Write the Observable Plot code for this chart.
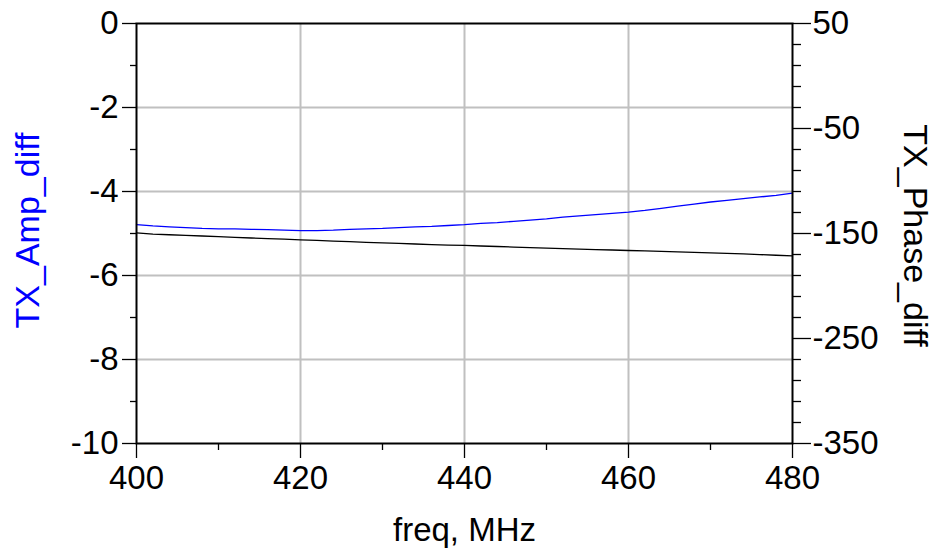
<!DOCTYPE html>
<html>
<head>
<meta charset="utf-8">
<script src="https://cdn.jsdelivr.net/npm/d3@7"></script>
<script src="https://cdn.jsdelivr.net/npm/@observablehq/plot@0.6"></script>
<style>
  html, body { margin: 0; padding: 0; background: #fff; }
</style>
</head>
<body>
<div id="chart"></div>
<script>
const freq = [400,402,404,406,408,410,412,414,416,418,420,422,424,426,428,430,432,434,436,438,440,442,444,446,448,450,452,454,456,458,460,462,464,466,468,470,472,474,476,478,480];
const ampDiff = [-4.79,-4.82,-4.84,-4.86,-4.88,-4.89,-4.89,-4.90,-4.91,-4.92,-4.93,-4.93,-4.92,-4.90,-4.89,-4.88,-4.86,-4.84,-4.83,-4.81,-4.79,-4.76,-4.74,-4.71,-4.68,-4.65,-4.61,-4.58,-4.55,-4.52,-4.49,-4.45,-4.40,-4.35,-4.30,-4.25,-4.21,-4.17,-4.13,-4.09,-4.04];
const phaseDiff = [-149.5,-150.6,-151.2,-151.8,-152.4,-153.0,-153.6,-154.3,-154.9,-155.4,-156.0,-156.6,-157.2,-157.8,-158.4,-159.0,-159.5,-160.0,-160.5,-161.0,-161.4,-161.9,-162.4,-162.9,-163.4,-163.9,-164.4,-164.8,-165.3,-165.7,-166.2,-166.6,-167.1,-167.5,-168.0,-168.4,-169.0,-169.5,-170.1,-170.7,-171.4];

const xTicks = [400,420,440,460,480];
const xMinorTicks = [410,430,450,470];
const ampTicks = [0,-2,-4,-6,-8,-10];
const ampMinorTicks = [-1,-3,-5,-7,-9];
const phaseTicks = [50,-50,-150,-250,-350];
const phaseMinorTicks = [30,10,-10,-30,-70,-90,-110,-130,-170,-190,-210,-230,-270,-290,-310,-330];
const xGrid = [420,440,460];
const ampGrid = [-2,-4,-6,-8];

// map phase (right axis, 50..-350) onto amp scale (left axis, 0..-10)
const phaseToAmp = p => (p - 50) / 40;
const ampToPhase = a => Math.round(a * 40 + 50);

const ampData = freq.map((f, i) => ({f, v: ampDiff[i]}));
const phaseData = freq.map((f, i) => ({f, v: phaseToAmp(phaseDiff[i])}));

const chart = Plot.plot({
  width: 935,
  height: 554,
  marginLeft: 136,
  marginRight: 143,
  marginTop: 23,
  marginBottom: 111,
  style: {fontFamily: "'Liberation Sans', Arial, sans-serif", fontSize: "33px", color: "black", background: "white"},
  x: {domain: [400, 480]},
  y: {domain: [-10, 0]},
  marks: [
    Plot.gridX(xGrid, {stroke: "#c0c0c0", strokeOpacity: 1, strokeWidth: 2}),
    Plot.gridY(ampGrid, {stroke: "#c0c0c0", strokeOpacity: 1, strokeWidth: 2}),
    Plot.line(phaseData, {x: "f", y: "v", stroke: "black", strokeWidth: 1.3}),
    Plot.line(ampData, {x: "f", y: "v", stroke: "#0000ff", strokeWidth: 1.3}),
    Plot.frame({stroke: "black", strokeWidth: 2}),
    Plot.axisX({ticks: xTicks, tickSize: 15, tickPadding: 7, tickFormat: d => String(d), label: null, strokeWidth: 1.3}),
    Plot.axisX({ticks: xMinorTicks, tickSize: 7, tickFormat: () => "", label: null, strokeWidth: 1.3}),
    Plot.axisY({anchor: "left", ticks: ampTicks, tickSize: 14, tickPadding: 4, tickFormat: d => String(d), label: null, strokeWidth: 1.3}),
    Plot.axisY({anchor: "left", ticks: ampMinorTicks, tickSize: 6, tickFormat: () => "", label: null, strokeWidth: 1.3}),
    Plot.axisY({anchor: "right", ticks: phaseTicks.map(phaseToAmp), tickSize: 18, tickPadding: 2, tickFormat: ampToPhase, label: null, strokeWidth: 1.3}),
    Plot.axisY({anchor: "right", ticks: phaseMinorTicks.map(phaseToAmp), tickSize: 8, tickFormat: () => "", label: null, strokeWidth: 1.3}),
    Plot.text(["TX_Amp_diff"], {frameAnchor: "left", textAnchor: "middle", dx: -108, dy: -3, rotate: -90, fill: "#0000ff", fontSize: 34}),
    Plot.text(["TX_Phase_diff"], {frameAnchor: "right", textAnchor: "middle", dx: 122, dy: 2, rotate: 90, fill: "black", fontSize: 34}),
    Plot.text(["freq, MHz"], {frameAnchor: "bottom", textAnchor: "middle", dy: 97, fill: "black", fontSize: 33})
  ]
});
document.getElementById("chart").appendChild(chart);
</script>
</body>
</html>
